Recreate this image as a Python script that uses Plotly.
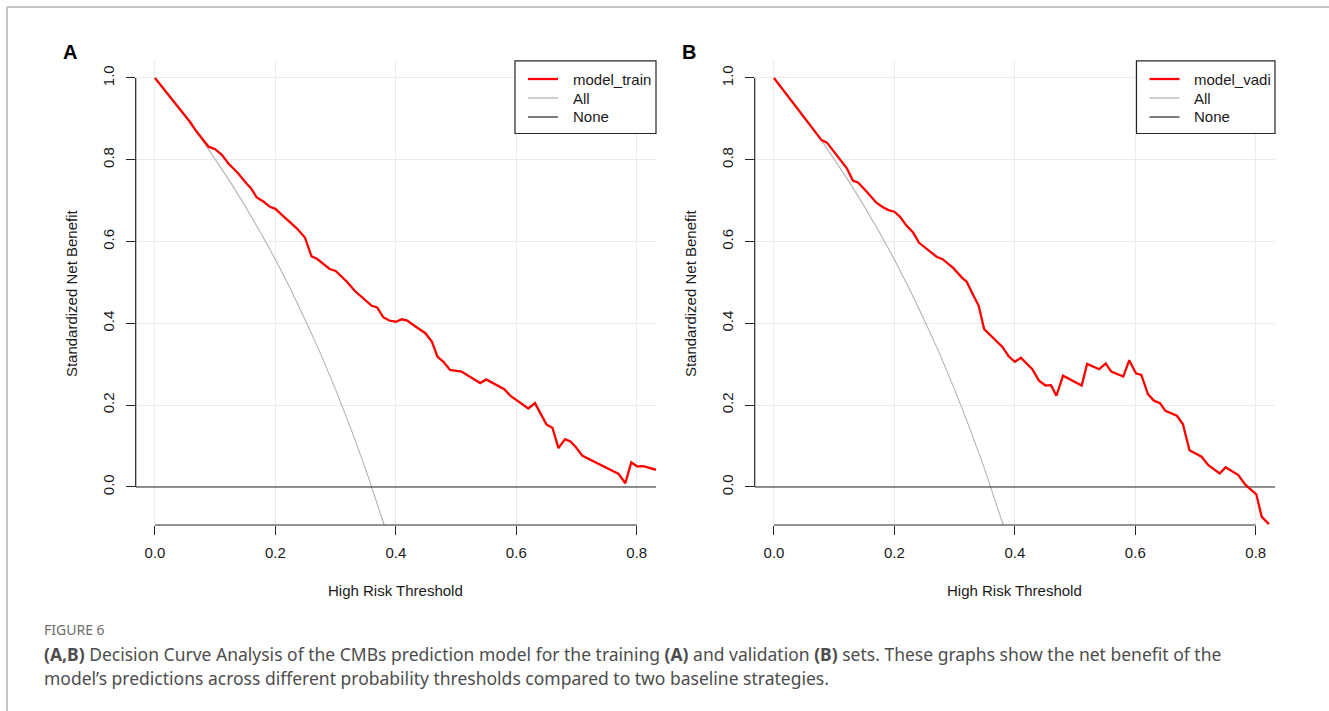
import plotly.graph_objects as go

W, H = 1329, 711

# ---------------- data ----------------
thresholds_train = [0.000, 0.030, 0.058, 0.069, 0.089, 0.100, 0.111, 0.122, 0.138, 0.152,
                    0.159, 0.169, 0.180, 0.191, 0.200, 0.208, 0.221, 0.235, 0.249, 0.260,
                    0.269, 0.280, 0.290, 0.300, 0.318, 0.332, 0.343, 0.360, 0.369, 0.379,
                    0.389, 0.400, 0.410, 0.419, 0.429, 0.449, 0.460, 0.469, 0.479, 0.490,
                    0.509, 0.540, 0.550, 0.580, 0.591, 0.620, 0.631, 0.650, 0.660, 0.670,
                    0.681, 0.690, 0.699, 0.710, 0.770, 0.781, 0.791, 0.801, 0.811, 0.832]
nb_train = [1.000, 0.946, 0.893, 0.869, 0.832, 0.826, 0.812, 0.791, 0.767, 0.742,
            0.731, 0.708, 0.698, 0.685, 0.680, 0.669, 0.651, 0.633, 0.610, 0.564,
            0.558, 0.545, 0.533, 0.528, 0.503, 0.479, 0.464, 0.443, 0.439, 0.415,
            0.407, 0.404, 0.410, 0.407, 0.396, 0.376, 0.355, 0.319, 0.306, 0.286,
            0.282, 0.254, 0.263, 0.239, 0.222, 0.192, 0.205, 0.153, 0.145, 0.095,
            0.117, 0.111, 0.097, 0.076, 0.032, 0.009, 0.060, 0.050, 0.051, 0.042]

thresholds_vadi = [0.000, 0.079, 0.088, 0.101, 0.121, 0.131, 0.140, 0.154, 0.170, 0.181,
                   0.190, 0.200, 0.209, 0.220, 0.231, 0.241, 0.252, 0.270, 0.280, 0.298,
                   0.312, 0.320, 0.331, 0.340, 0.349, 0.361, 0.370, 0.379, 0.390, 0.400,
                   0.410, 0.429, 0.440, 0.451, 0.460, 0.469, 0.480, 0.511, 0.520, 0.540,
                   0.551, 0.560, 0.580, 0.590, 0.601, 0.610, 0.621, 0.631, 0.641, 0.650,
                   0.669, 0.679, 0.690, 0.710, 0.721, 0.740, 0.750, 0.771, 0.783, 0.801,
                   0.810, 0.822]
nb_vadi = [1.000, 0.848, 0.842, 0.816, 0.779, 0.749, 0.744, 0.722, 0.695, 0.684,
           0.677, 0.673, 0.661, 0.639, 0.622, 0.597, 0.584, 0.563, 0.557, 0.535,
           0.512, 0.502, 0.469, 0.443, 0.386, 0.369, 0.355, 0.343, 0.319, 0.306,
           0.316, 0.288, 0.260, 0.248, 0.249, 0.223, 0.272, 0.248, 0.301, 0.288,
           0.302, 0.282, 0.270, 0.310, 0.278, 0.274, 0.227, 0.211, 0.205, 0.186,
           0.174, 0.154, 0.090, 0.074, 0.054, 0.033, 0.048, 0.029, 0.005, -0.018,
           -0.073, -0.091]

all_thresholds = [0.000, 0.025, 0.050, 0.075, 0.100, 0.125, 0.150, 0.175, 0.200, 0.225,
                  0.250, 0.275, 0.300, 0.325, 0.350, 0.360, 0.370, 0.380, 0.390]
nb_all = [1.000, 0.954, 0.906, 0.856, 0.802, 0.746, 0.686, 0.623, 0.556, 0.484,
          0.407, 0.326, 0.238, 0.144, 0.043, 0.000, -0.044, -0.090, -0.137]

none_nb = [0.0, 0.0]

x_ticks = [0.0, 0.2, 0.4, 0.6, 0.8]
y_ticks = [0.0, 0.2, 0.4, 0.6, 0.8, 1.0]
x_range = [-0.032, 0.832]
y_range = [-0.093, 1.042]

panel_labels = ["A", "B"]
model_names = ["model_train", "model_vadi"]
legend_names = ["All", "None"]
x_title = "High Risk Threshold"
y_title = "Standardized Net Benefit"
fig_label = "FIGURE 6"
caption_1 = ("<b>(A,B)</b> Decision Curve Analysis of the CMBs prediction model for the training "
             "<b>(A)</b> and validation <b>(B)</b> sets. These graphs show the net benefit of the")
caption_2 = ("model\u2019s predictions across different probability thresholds compared to two "
             "baseline strategies.")

# ---------------- styling ----------------
FONT = "Liberation Sans, Arial, sans-serif"
CAP_FONT = "Noto Sans, Open Sans, sans-serif"
RED = "#ff0000"
GREY = "#b3b3b3"
AXC = "#262626"
GRID = "#ebebeb"
TXT = "#1a1a1a"


def px_x(p):
    return p / W


def px_y(p):
    return 1 - p / H


panels = [
    dict(x0=135.7, x1=656.0, leg_left=515.0),
    dict(x0=754.7, x1=1275.0, leg_left=1136.5),
]
plot_top, plot_bot = 60.8, 525.0
leg_bottom = 133.5
leg_rows = [79.0, 98.0, 117.0]

fig = go.Figure()

series = [(thresholds_train, nb_train), (thresholds_vadi, nb_vadi)]
for i, (tx, ty) in enumerate(series):
    sfx = "" if i == 0 else str(i + 1)
    xa, ya = "x" + sfx, "y" + sfx
    fig.add_trace(go.Scatter(x=all_thresholds, y=nb_all, mode="lines", name=legend_names[0],
                             line=dict(color=GREY, width=1.1), xaxis=xa, yaxis=ya,
                             showlegend=False, hoverinfo="skip"))
    fig.add_trace(go.Scatter(x=x_range, y=none_nb, mode="lines", name=legend_names[1],
                             line=dict(color=AXC, width=1.1), xaxis=xa, yaxis=ya,
                             showlegend=False, hoverinfo="skip"))
    fig.add_trace(go.Scatter(x=tx, y=ty, mode="lines", name=model_names[i],
                             line=dict(color=RED, width=2.3), xaxis=xa, yaxis=ya,
                             showlegend=False))

layout = dict(
    width=W, height=H, autosize=False,
    margin=dict(l=0, r=0, t=0, b=0),
    paper_bgcolor="white", plot_bgcolor="white",
    font=dict(family=FONT, size=15, color=TXT),
    showlegend=False,
)

shapes = []
annotations = []
for i, p in enumerate(panels):
    sfx = "" if i == 0 else str(i + 1)
    xa_key, ya_key = "xaxis" + sfx, "yaxis" + sfx
    xa, ya = "x" + sfx, "y" + sfx
    layout[xa_key] = dict(
        domain=[px_x(p["x0"]), px_x(p["x1"])], range=x_range, anchor=ya,
        tickvals=x_ticks, ticktext=[f"{v:.1f}" for v in x_ticks],
        ticks="outside", ticklen=9, tickwidth=1, tickcolor=AXC, ticklabelstandoff=5,
        showline=False, zeroline=False, showgrid=True, gridcolor=GRID, gridwidth=1,
        tickfont=dict(family=FONT, size=15, color=TXT), fixedrange=True,
    )
    layout[ya_key] = dict(
        domain=[px_y(plot_bot), px_y(plot_top)], range=y_range, anchor=xa,
        tickvals=y_ticks, ticktext=[f"{v:.1f}" for v in y_ticks], tickangle=-90,
        ticks="outside", ticklen=9, tickwidth=1, tickcolor=AXC, ticklabelstandoff=6,
        showline=False, zeroline=False, showgrid=True, gridcolor=GRID, gridwidth=1,
        tickfont=dict(family=FONT, size=15, color=TXT), fixedrange=True,
    )
    # R-style axis lines spanning first to last tick
    shapes.append(dict(type="line", xref=xa, yref=ya + " domain",
                       x0=x_ticks[0], x1=x_ticks[-1], y0=0, y1=0,
                       line=dict(color=AXC, width=1.2), layer="above"))
    shapes.append(dict(type="line", xref=xa + " domain", yref=ya,
                       x0=0, x1=0, y0=y_ticks[0], y1=y_ticks[-1],
                       line=dict(color=AXC, width=1.2), layer="above"))

    # legend box (R legend style)
    L = p["leg_left"]
    shapes.append(dict(type="rect", xref="paper", yref="paper",
                       x0=px_x(L), x1=px_x(p["x1"]), y0=px_y(leg_bottom), y1=px_y(plot_top),
                       fillcolor="white", line=dict(color=AXC, width=1.2), layer="above"))
    leg_items = [(model_names[i], RED, 2.3), (legend_names[0], GREY, 1.3),
                 (legend_names[1], AXC, 1.2)]
    for (name, col, lw), ry in zip(leg_items, leg_rows):
        shapes.append(dict(type="line", xref="paper", yref="paper",
                           x0=px_x(L + 13), x1=px_x(L + 43), y0=px_y(ry), y1=px_y(ry),
                           line=dict(color=col, width=lw), layer="above"))
        annotations.append(dict(text=name, x=px_x(L + 55.5), y=px_y(ry), xref="paper",
                                yref="paper", showarrow=False, xanchor="left",
                                yanchor="middle", font=dict(family=FONT, size=15, color=TXT)))

    cx = (p["x0"] + p["x1"]) / 2
    annotations.append(dict(text=x_title, x=px_x(cx), y=px_y(590), xref="paper", yref="paper",
                            showarrow=False, xanchor="center", yanchor="middle",
                            font=dict(family=FONT, size=15, color=TXT)))
    annotations.append(dict(text=y_title, x=px_x(p["x0"] - 63.5), y=px_y((plot_top + plot_bot) / 2),
                            xref="paper", yref="paper", textangle=-90,
                            showarrow=False, xanchor="center", yanchor="middle",
                            font=dict(family=FONT, size=15, color=TXT)))
    annotations.append(dict(text="<b>" + panel_labels[i] + "</b>", x=px_x(p["x0"] - 65.7),
                            y=px_y(52), xref="paper", yref="paper",
                            showarrow=False, xanchor="center", yanchor="middle",
                            font=dict(family=FONT, size=20, color="#000000")))

# caption
annotations.append(dict(text=fig_label, x=px_x(42), y=px_y(629), xref="paper", yref="paper",
                        showarrow=False, xanchor="left", yanchor="middle",
                        font=dict(family=CAP_FONT, size=14, color="#6e6e6e")))
annotations.append(dict(text=caption_1, x=px_x(42), y=px_y(654), xref="paper", yref="paper",
                        showarrow=False, xanchor="left", yanchor="middle",
                        font=dict(family=CAP_FONT, size=17.5, color="#4d4d4d")))
annotations.append(dict(text=caption_2, x=px_x(42), y=px_y(678), xref="paper", yref="paper",
                        showarrow=False, xanchor="left", yanchor="middle",
                        font=dict(family=CAP_FONT, size=17.5, color="#4d4d4d")))

# page frame lines (top and left)
shapes.append(dict(type="line", xref="paper", yref="paper", x0=px_x(7), x1=1,
                   y0=px_y(7), y1=px_y(7), line=dict(color="#c4c4c4", width=2)))
shapes.append(dict(type="line", xref="paper", yref="paper", x0=px_x(7), x1=px_x(7),
                   y0=px_y(7), y1=0, line=dict(color="#c4c4c4", width=2)))

layout["shapes"] = shapes
layout["annotations"] = annotations
fig.update_layout(**layout)

fig.write_html(
    "out.html",
    config={"displayModeBar": False},
    post_script="document.body.style.margin='0';document.body.style.padding='0';"
                "document.documentElement.style.overflow='hidden';",
)
